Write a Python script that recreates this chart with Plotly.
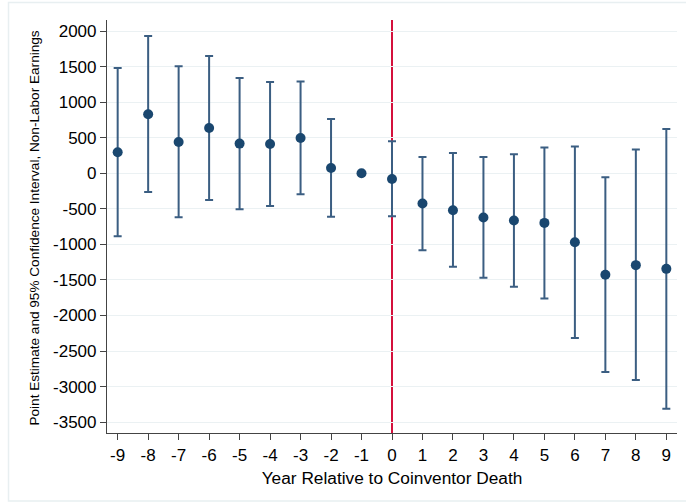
import plotly.graph_objects as go

years = [-9, -8, -7, -6, -5, -4, -3, -2, -1, 0, 1, 2, 3, 4, 5, 6, 7, 8, 9]
estimate = [295, 829, 440, 637, 417, 412, 496, 74, 0, -80, -426, -520, -622, -665, -698, -969, -1428, -1292, -1344]
ci_upper = [1479, 1929, 1503, 1648, 1339, 1282, 1292, 763, None, 449, 229, 285, 229, 267, 361, 375, -56, 333, 622]
ci_lower = [-885, -262, -618, -375, -506, -459, -295, -613, None, -604, -1081, -1316, -1470, -1597, -1760, -2317, -2795, -2907, -3310]

y_tickvals = [2000, 1500, 1000, 500, 0, -500, -1000, -1500, -2000, -2500, -3000, -3500]
y_ticktext = ["2000", "1500", "1000", "500", "0", "-500", "-1000", "-1500", "-2000", "-2500", "-3000", "-3500"]
x_tickvals = years
x_ticktext = [str(v) for v in years]

y_title = "Point Estimate and 95% Confidence Interval, Non-Labor Earnings"
x_title = "Year Relative to Coinventor Death"

err_plus = [(u - e) if u is not None else None for u, e in zip(ci_upper, estimate)]
err_minus = [(e - l) if l is not None else None for l, e in zip(ci_lower, estimate)]

navy = "#1a476f"
bar_col = "#3b5e82"

fig = go.Figure()
fig.add_trace(go.Scatter(
    x=years, y=estimate, mode="markers",
    marker=dict(color=navy, size=10),
    error_y=dict(type="data", symmetric=False, array=err_plus, arrayminus=err_minus,
                 color=bar_col, thickness=2, width=4),
    showlegend=False,
))

fig.add_shape(type="line", xref="x", yref="paper", x0=0, x1=0, y0=0, y1=1,
              line=dict(color="#d4103c", width=2), layer="between")

# outer graph-region border
fig.add_shape(type="rect", xref="paper", yref="paper",
              x0=-0.1728, x1=1.03, y0=-0.1646, y1=1.0424,
              line=dict(color="#e8eff1", width=1.5), fillcolor="rgba(0,0,0,0)", layer="below")

fig.add_annotation(text=y_title, xref="paper", yref="paper", x=-0.1263, y=0.495,
                   xanchor="center", yanchor="middle", textangle=-90, showarrow=False,
                   font=dict(size=13.6, color="black"))

font_family = "Liberation Sans, Arial, sans-serif"
fig.update_layout(
    width=686, height=504,
    margin=dict(l=107, r=9, t=20, b=71),
    paper_bgcolor="white", plot_bgcolor="white",
    font=dict(family=font_family, color="black"),
    xaxis=dict(
        range=[-9.35, 9.35], tickvals=x_tickvals, ticktext=x_ticktext,
        showgrid=False, zeroline=False,
        showline=True, linecolor="#444", linewidth=1.2,
        ticks="outside", ticklen=6, tickcolor="#444", tickwidth=1.2,
        tickfont=dict(size=17),
        title=dict(text=x_title, font=dict(size=17.3), standoff=8),
    ),
    yaxis=dict(
        range=[-3652, 2155], tickvals=y_tickvals, ticktext=y_ticktext,
        showgrid=True, gridcolor="#ebf1f3", gridwidth=1.3, zeroline=False,
        showline=True, linecolor="#444", linewidth=1.2,
        ticks="outside", ticklen=6, tickcolor="#444", tickwidth=1.2,
        tickfont=dict(size=17),
    ),
)

fig.write_html("out.html")
